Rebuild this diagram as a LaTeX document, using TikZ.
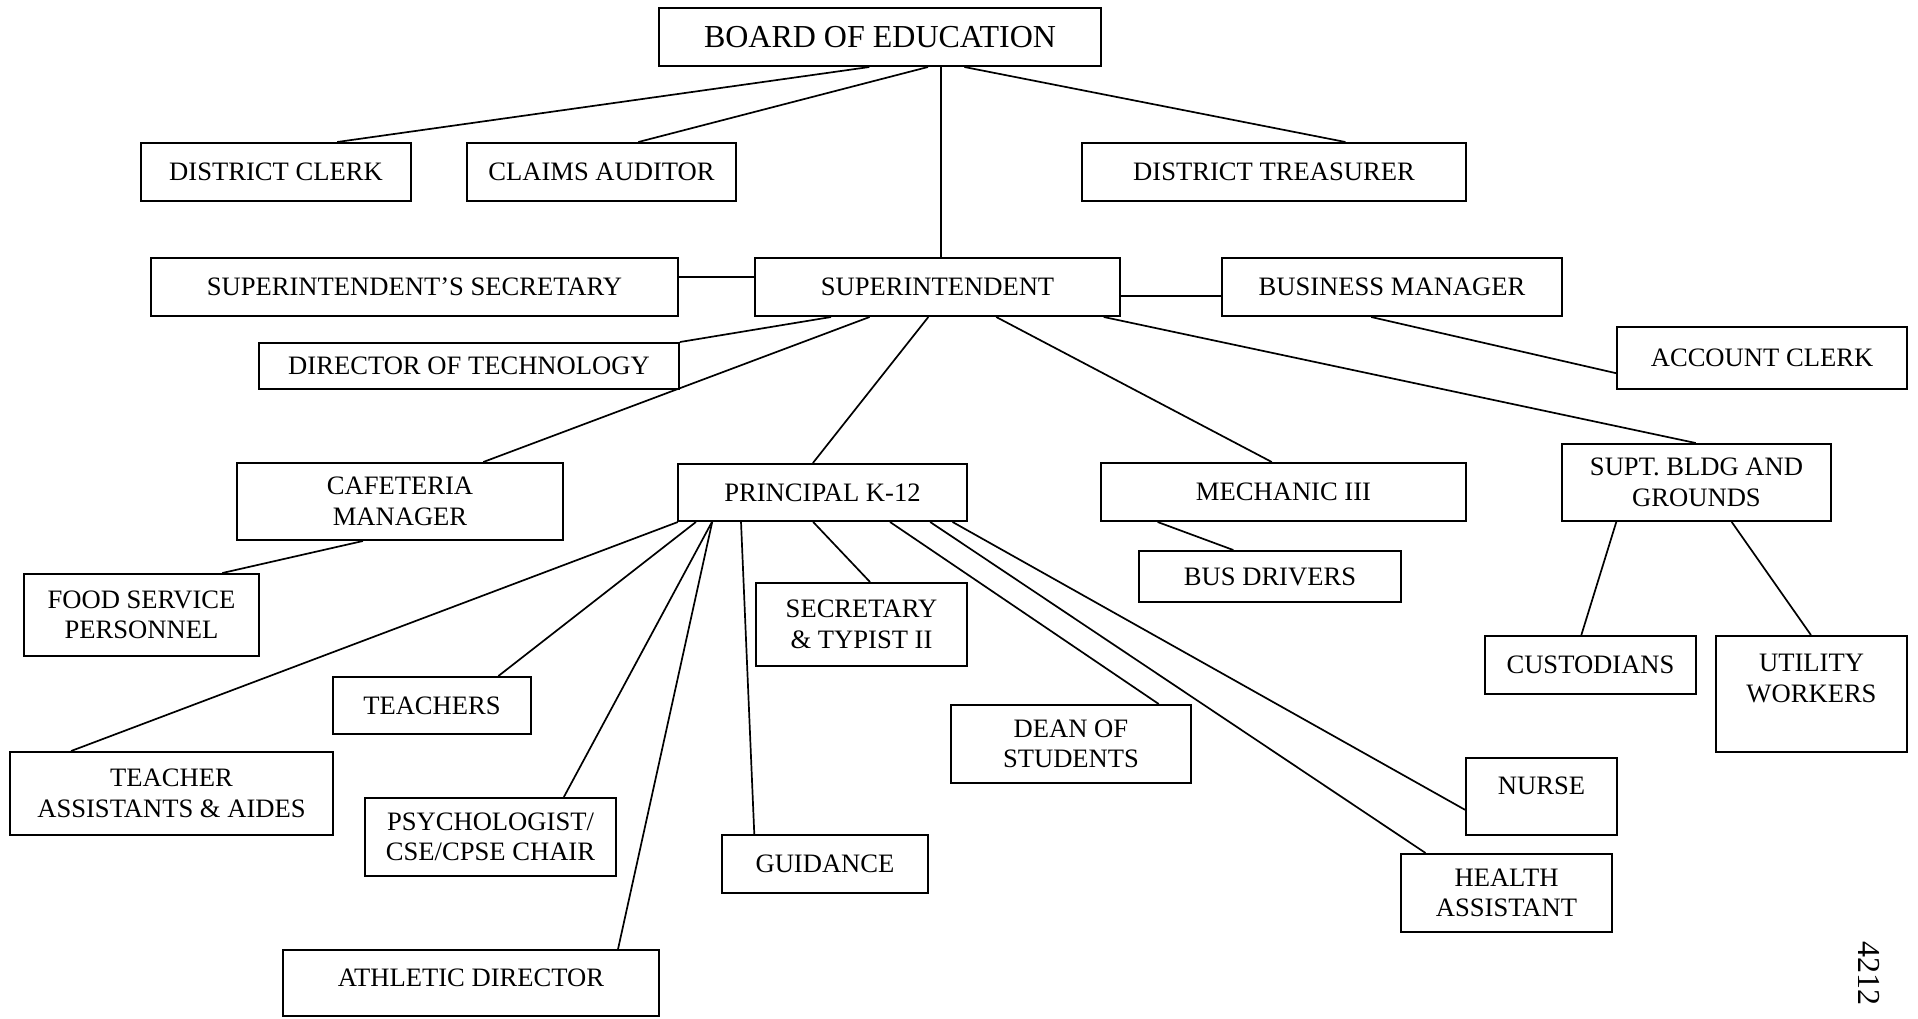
\documentclass[tikz,border=0pt]{standalone}
\usepackage{fontspec}
\setmainfont{Liberation Serif}
\usetikzlibrary{calc}
\begin{document}
\begin{tikzpicture}[x=0.5pt,y=-0.5pt,
  obox/.style={draw, line width=1pt, inner sep=0pt, align=center, font=\fontsize{13.3}{15.3}\selectfont},
  conn/.style={line width=0.85pt}]
\useasboundingbox (0,0) rectangle (1918,1018);
\fill[white] (0,0) rectangle (1918,1018);

% boxes
\node[obox, minimum width=221pt, minimum height=29pt, font=\fontsize{16}{18}\selectfont] (board) at (880,37) {BOARD OF EDUCATION};
\node[obox, minimum width=135pt, minimum height=29pt] (dclerk) at (276,172) {DISTRICT CLERK};
\node[obox, minimum width=134.5pt, minimum height=29pt] (claims) at (601.5,172) {CLAIMS AUDITOR};
\node[obox, minimum width=192pt, minimum height=29pt] (treas) at (1274,172) {DISTRICT TREASURER};
\node[obox, minimum width=263.5pt, minimum height=29pt] (ssec) at (414.5,287) {SUPERINTENDENT’S SECRETARY};
\node[obox, minimum width=182.5pt, minimum height=29pt] (supt) at (937.5,287) {SUPERINTENDENT};
\node[obox, minimum width=170pt, minimum height=29pt] (bm) at (1392,287) {BUSINESS MANAGER};
\node[obox, minimum width=210pt, minimum height=23pt] (dtech) at (469,366) {DIRECTOR OF TECHNOLOGY};
\node[obox, minimum width=145pt, minimum height=31pt] (acct) at (1762,358) {ACCOUNT CLERK};
\node[obox, minimum width=163pt, minimum height=38.5pt] (caf) at (400,501.5) {CAFETERIA\\MANAGER};
\node[obox, minimum width=144.5pt, minimum height=28.5pt] (prin) at (822.5,492.5) {PRINCIPAL K-12};
\node[obox, minimum width=182.5pt, minimum height=29pt] (mech) at (1283.5,492) {MECHANIC III};
\node[obox, minimum width=134.5pt, minimum height=38.5pt] (sbg) at (1696.5,482.5) {SUPT. BLDG AND\\GROUNDS};
\node[obox, minimum width=117.5pt, minimum height=41pt] (food) at (141.5,615) {FOOD SERVICE\\PERSONNEL};
\node[obox, minimum width=131pt, minimum height=25.5pt] (bus) at (1270,576.5) {BUS DRIVERS};
\node[obox, minimum width=105.5pt, minimum height=41.5pt] (sec) at (861.5,624.5) {SECRETARY\\\& TYPIST II};
\node[obox, minimum width=105.5pt, minimum height=29pt] (cust) at (1590.5,665) {CUSTODIANS};
\node[obox, minimum width=95.5pt, minimum height=58pt, text depth=15.7pt] (util) at (1811.5,694) {UTILITY\\WORKERS};
\node[obox, minimum width=99pt, minimum height=28.5pt] (teach) at (432,705.5) {TEACHERS};
\node[obox, minimum width=161.5pt, minimum height=41.5pt] (ta) at (171.5,793.5) {TEACHER\\ASSISTANTS \& AIDES};
\node[obox, minimum width=120pt, minimum height=39pt] (dean) at (1071,744) {DEAN OF\\STUDENTS};
\node[obox, minimum width=75.5pt, minimum height=38.5pt, text depth=10.8pt] (nurse) at (1541.5,796.5) {NURSE};
\node[obox, minimum width=125.5pt, minimum height=39pt] (psych) at (490.5,837) {PSYCHOLOGIST/\\CSE/CPSE CHAIR};
\node[obox, minimum width=103pt, minimum height=29pt] (guid) at (825,864) {GUIDANCE};
\node[obox, minimum width=105.5pt, minimum height=39pt] (health) at (1506.5,893) {HEALTH\\ASSISTANT};
\node[obox, minimum width=188pt, minimum height=33pt, text depth=5pt] (ath) at (471,983) {ATHLETIC DIRECTOR};

\node[rotate=-90, inner sep=0pt, font=\fontsize{16}{18}\selectfont] (code) at (1869,973.5) {4212};

% connectors from board
\draw[conn] ($(board.south west)!0.476!(board.south east)$) -- ($(dclerk.north west)!0.725!(dclerk.north east)$);
\draw[conn] ($(board.south west)!0.608!(board.south east)$) -- ($(claims.north west)!0.636!(claims.north east)$);
\draw[conn] ($(board.south west)!0.690!(board.south east)$) -- ($(treas.north west)!0.685!(treas.north east)$);
\coordinate (b2s) at ($(board.south west)!0.638!(board.south east)$);
\draw[conn] (b2s) -- (b2s |- supt.north);

% superintendent side links
\coordinate (sL) at ($(supt.north west)!0.33!(supt.south west)$);
\draw[conn] (sL) -- (sL -| ssec.east);
\coordinate (sR) at ($(supt.north east)!0.65!(supt.south east)$);
\draw[conn] (sR) -- (sR -| bm.west);

% superintendent downward
\draw[conn] ($(supt.south west)!0.210!(supt.south east)$) -- (dtech.north east);
\draw[conn] ($(supt.south west)!0.315!(supt.south east)$) -- ($(caf.north west)!0.754!(caf.north east)$);
\draw[conn] ($(supt.south west)!0.475!(supt.south east)$) -- ($(prin.north west)!0.467!(prin.north east)$);
\draw[conn] ($(supt.south west)!0.660!(supt.south east)$) -- ($(mech.north west)!0.468!(mech.north east)$);
\draw[conn] ($(supt.south west)!0.953!(supt.south east)$) -- ($(sbg.north west)!0.497!(sbg.north east)$);

% business manager
\draw[conn] ($(bm.south west)!0.439!(bm.south east)$) -- ($(acct.north west)!0.737!(acct.south west)$);

% cafeteria
\draw[conn] ($(caf.south west)!0.387!(caf.south east)$) -- ($(food.north west)!0.841!(food.north east)$);

% principal
\draw[conn] ($(prin.south west)!0.003!(prin.south east)$) -- ($(ta.north west)!0.191!(ta.north east)$);
\draw[conn] ($(prin.south west)!0.065!(prin.south east)$) -- ($(teach.north west)!0.832!(teach.north east)$);
\draw[conn] ($(prin.south west)!0.120!(prin.south east)$) -- ($(psych.north west)!0.790!(psych.north east)$);
\draw[conn] ($(prin.south west)!0.121!(prin.south east)$) -- ($(ath.north west)!0.889!(ath.north east)$);
\draw[conn] ($(prin.south west)!0.220!(prin.south east)$) -- ($(guid.north west)!0.160!(guid.north east)$);
\draw[conn] ($(prin.south west)!0.468!(prin.south east)$) -- ($(sec.north west)!0.540!(sec.north east)$);
\draw[conn] ($(prin.south west)!0.732!(prin.south east)$) -- ($(dean.north west)!0.8625!(dean.north east)$);
\draw[conn] ($(prin.south west)!0.870!(prin.south east)$) -- ($(health.north west)!0.120!(health.north east)$);
\draw[conn] ($(prin.south west)!0.947!(prin.south east)$) -- ($(nurse.north west)!0.668!(nurse.south west)$);

% mechanic
\draw[conn] ($(mech.south west)!0.157!(mech.south east)$) -- ($(bus.north west)!0.361!(bus.north east)$);

% buildings and grounds
\draw[conn] ($(sbg.south west)!0.204!(sbg.south east)$) -- ($(cust.north west)!0.457!(cust.north east)$);
\draw[conn] ($(sbg.south west)!0.630!(sbg.south east)$) -- ($(util.north west)!0.497!(util.north east)$);
\end{tikzpicture}
\end{document}
